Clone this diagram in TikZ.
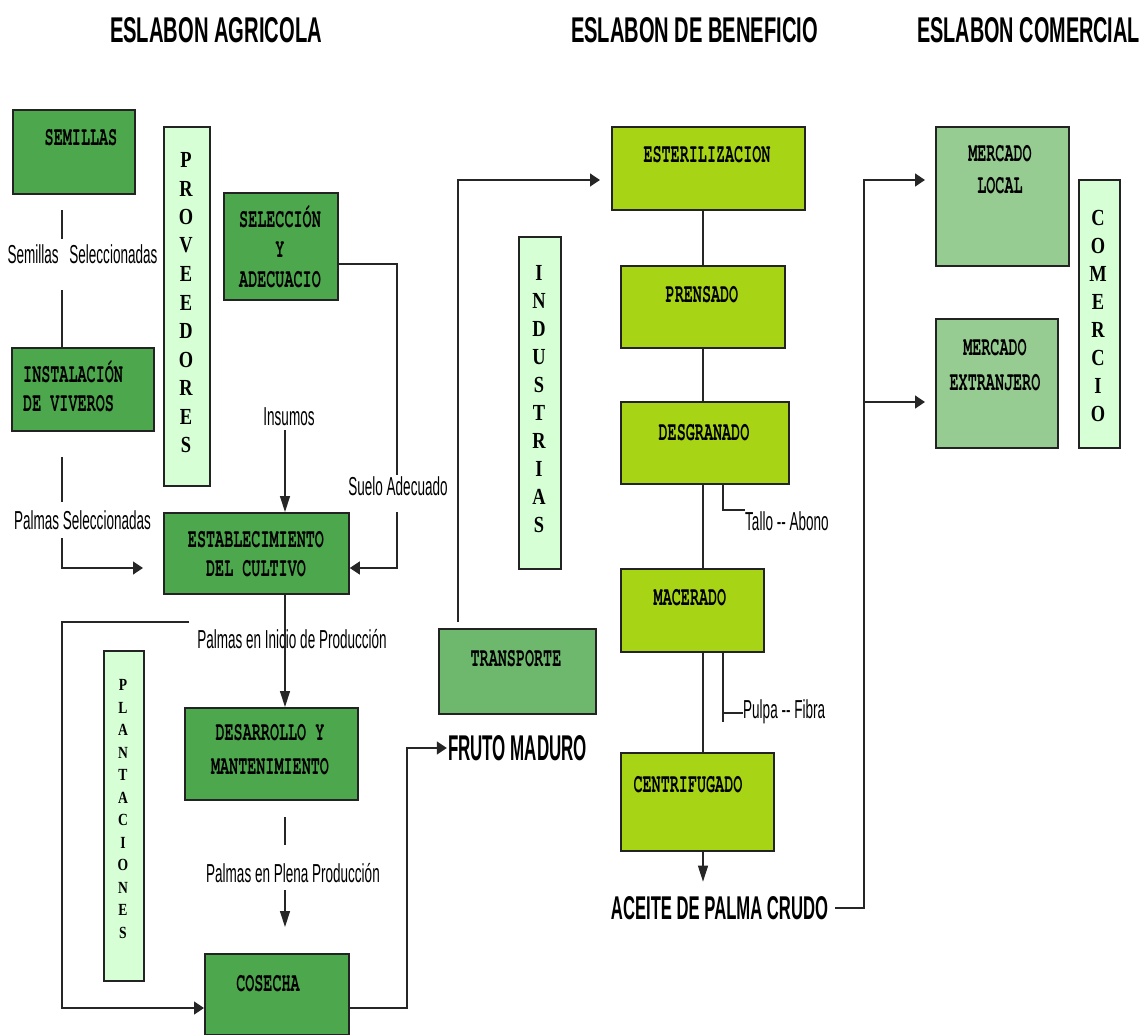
\documentclass[tikz,border=0pt]{standalone}
\usepackage{fontspec}
\usepackage{graphicx}
\usetikzlibrary{arrows.meta}
\setmainfont{Liberation Sans}
\newfontfamily\labelfont[FakeStretch=0.52]{Liberation Sans}
\newfontfamily\headfont{Liberation Sans Bold}
\newfontfamily\boxfont[FakeStretch=0.56]{texgyrecursor-bold.otf}
\newfontfamily\letterfont[FakeStretch=0.8]{Liberation Serif Bold}
\newcommand\fitw[3]{\resizebox{#1pt}{#2pt}{\headfont #3}}

\definecolor{dkgreen}{RGB}{77,168,77}
\definecolor{ltgreen}{RGB}{214,255,214}
\definecolor{ygreen}{RGB}{168,212,22}
\definecolor{trgreen}{RGB}{110,184,110}
\definecolor{mkgreen}{RGB}{150,204,145}
\definecolor{boxline}{RGB}{35,35,35}

\begin{document}
\begin{tikzpicture}[x=1pt,y=-1pt,
  box/.style={draw=boxline, line width=1.8pt, anchor=north west, inner sep=0pt},
  btxt/.style={font=\boxfont\fontsize{27}{27}\selectfont, anchor=base, inner sep=0pt},
  lbl/.style={font=\labelfont\fontsize{26}{26}\selectfont, anchor=base, inner sep=0pt},
  vlet/.style={font=\letterfont\fontsize{23}{23}\selectfont, inner sep=0pt},
  slet/.style={font=\letterfont\fontsize{17}{17}\selectfont, inner sep=0pt},
  conn/.style={line width=1.3pt, draw=black!85},
  harr/.style={-{Triangle[length=10pt,width=13pt]}},
  varr/.style={-{Triangle[length=16pt,width=10pt]}}]
\useasboundingbox (0,0) rectangle (1148,1035);

% stage headings
\node[inner sep=0pt] (h1) at (216,30) {\fitw{212}{25}{ESLABON AGRICOLA}};
\node[inner sep=0pt] (h2) at (694.5,30) {\fitw{247}{25}{ESLABON DE BENEFICIO}};
\node[inner sep=0pt] (h3) at (1028.5,30) {\fitw{223}{25}{ESLABON COMERCIAL}};

% agricultural stage
\node[box, fill=dkgreen, minimum width=122, minimum height=84] (semillas) at (12,109) {};
\node[btxt] (semillasT) at (81,146) {SEMILLAS};

\node[box, fill=ltgreen, minimum width=46, minimum height=359] (prov) at (163,126) {};
\foreach \ch [count=\i from 0] in {P,R,O,V,E,E,D,O,R,E,S}
  \node[vlet] (prov-\i) at (186,160+28.5*\i) {\ch};

\node[box, fill=dkgreen, minimum width=114, minimum height=107] (selec) at (223,192) {};
\node[btxt] (selecT1) at (280,227) {SELECCIÓN};
\node[btxt] (selecT2) at (280,257) {Y};
\node[btxt] (selecT3) at (280,287) {ADECUACIO};

\node[box, fill=dkgreen, minimum width=142, minimum height=83] (instal) at (11,347) {};
\node[btxt, anchor=base west] (instalT1) at (23,382) {INSTALACIÓN};
\node[btxt, anchor=base west] (instalT2) at (23,411) {DE VIVEROS};

\node[box, fill=dkgreen, minimum width=185, minimum height=81] (estab) at (163,512) {};
\node[btxt] (estabT1) at (256,547) {ESTABLECIMIENTO};
\node[btxt] (estabT2) at (256,576) {DEL CULTIVO};

\node[box, fill=ltgreen, minimum width=40, minimum height=330] (plant) at (103,650) {};
\foreach \ch [count=\i from 0] in {P,L,A,N,T,A,C,I,O,N,E,S}
  \node[slet] (plant-\i) at (123,685+22.5*\i) {\ch};

\node[box, fill=dkgreen, minimum width=173, minimum height=92] (desarr) at (184,707) {};
\node[btxt] (desarrT1) at (270,740) {DESARROLLO Y};
\node[btxt] (desarrT2) at (270,774) {MANTENIMIENTO};

\node[box, fill=dkgreen, minimum width=144, minimum height=81] (cosecha) at (204,953) {};
\node[btxt] (cosechaT) at (268,991) {COSECHA};

% flow labels
\node[lbl] (semsel) at (82.5,263) {Semillas\hspace{7pt} Seleccionadas};
\node[lbl] (palsel) at (82.5,529) {Palmas Seleccionadas};
\node[lbl] (insumos) at (289,425) {Insumos};
\node[lbl] (suelo) at (398,495) {Suelo Adecuado};
\node[lbl] (inicio) at (292,648) {Palmas en Inicio de Producción};
\node[lbl] (plena) at (293,882) {Palmas en Plena Producción};

\coordinate (colA) at (62,0);
\coordinate (colB) at (285,0);
\coordinate (colS) at (397,0);
\coordinate (colF) at (407,0);
\coordinate (colR) at (458,0);
\coordinate (colP) at (703,0);
\coordinate (colT) at (723,0);
\coordinate (colM) at (864,0);
\coordinate (sueloY) at (0,264);
\coordinate (estabY) at (0,568);
\coordinate (loopY) at (0,1008);
\coordinate (esterY) at (0,180);
\coordinate (mlocY) at (0,180);
\coordinate (mextY) at (0,402);

% seeds to nursery
\draw[conn] ([yshift=-15]semillas.south -| colA) -- ++(0,29);
\draw[conn] ([yshift=-27]semsel.base -| colA) -- (instal.north -| colA);
% nursery to establishment
\draw[conn] ([yshift=-25]instal.south -| colA) -- ++(0,45);
\draw[conn,harr] ([yshift=-9]palsel.base -| colA) -- (colA |- estabY) -- ([xshift=-20]estab.west |- estabY);
% soil preparation
\draw[conn] (selec.east |- sueloY) -- (colS |- sueloY) -- ([yshift=20]suelo.base -| colS);
\draw[conn,harr] ([yshift=-17]suelo.base -| colS) -- (colS |- estabY) -- (estab.east |- estabY);
% inputs
\draw[conn,varr] ([yshift=-5]insumos.base -| colB) -- (estab.north -| colB);
% establishment to development
\draw[conn,varr] (estab.south -| colB) -- (desarr.north -| colB);
% development to harvest
\draw[conn] ([yshift=-16]desarr.south -| colB) -- ++(0,28);
\draw[conn,varr] ([yshift=-8]plena.base -| colB) -- ([yshift=26]cosecha.north -| colB);
% plantation loop
\draw[conn,harr] (189,622) -- (colA |- 0,622) -- (colA |- loopY) -- (cosecha.west |- loopY);

% ripe fruit
\node[inner sep=0pt] (fruto) at (517.5,748) {\fitw{139}{25}{FRUTO MADURO}};
\draw[conn,harr] (cosecha.east |- loopY) -- (colF |- loopY) -- (colF |- fruto) -- ([xshift=-1]fruto.west);

% processing stage
\node[box, fill=trgreen, minimum width=157, minimum height=85] (transp) at (438,628) {};
\node[btxt] (transpT) at (516,666) {TRANSPORTE};

\node[box, fill=ltgreen, minimum width=42, minimum height=332] (indus) at (518,236) {};
\foreach \ch [count=\i from 0] in {I,N,D,U,S,T,R,I,A,S}
  \node[vlet] (indus-\i) at (539,273+28*\i) {\ch};

\node[box, fill=ygreen, minimum width=193, minimum height=83] (ester) at (611,126) {};
\node[btxt] (esterT) at (707,163) {ESTERILIZACION};
\node[box, fill=ygreen, minimum width=164, minimum height=82] (prens) at (620,265) {};
\node[btxt] (prensT) at (702,302) {PRENSADO};
\node[box, fill=ygreen, minimum width=168, minimum height=82] (desgr) at (620,401) {};
\node[btxt] (desgrT) at (704,440) {DESGRANADO};
\node[box, fill=ygreen, minimum width=143, minimum height=83] (macer) at (620,568) {};
\node[btxt] (macerT) at (690,605) {MACERADO};
\node[box, fill=ygreen, minimum width=153, minimum height=98] (centr) at (620,752) {};
\node[btxt] (centrT) at (688,792) {CENTRIFUGADO};

\draw[conn,harr] ([yshift=6]transp.north -| colR) -- (colR |- esterY) -- ([xshift=-11]ester.west |- esterY);
\draw[conn] (ester.south -| colP) -- (prens.north -| colP);
\draw[conn] (prens.south -| colP) -- (desgr.north -| colP);
\draw[conn] (desgr.south -| colP) -- (macer.north -| colP);
\draw[conn] (macer.south -| colP) -- (centr.north -| colP);

% by-products
\node[lbl, anchor=base west] (tallo) at (745,530) {Tallo -{}- Abono};
\draw[conn] (desgr.south -| colT) -- (colT |- 0,510) -- (745,510);
\node[lbl, anchor=base west] (pulpa) at (743,718) {Pulpa -{}- Fibra};
\draw[conn] (macer.south -| colT) -- (colT |- 0,722);
\draw[conn] (colT |- 0,713) -- (pulpa.west |- 0,713);

% crude oil
\node[inner sep=0pt] (aceite) at (719.5,908) {\fitw{217}{23}{ACEITE DE PALMA CRUDO}};
\draw[conn,varr] (centr.south -| colP) -- ([yshift=14.5]aceite.north -| colP);

% commercial stage
\node[box, fill=mkgreen, minimum width=133, minimum height=139] (merloc) at (935,126) {};
\node[btxt] (merlocT1) at (1000,162) {MERCADO};
\node[btxt] (merlocT2) at (1000,194) {LOCAL};
\node[box, fill=mkgreen, minimum width=122, minimum height=129] (merext) at (935,318) {};
\node[btxt] (merextT1) at (995,355) {MERCADO};
\node[btxt] (merextT2) at (995,390) {EXTRANJERO};

\node[box, fill=ltgreen, minimum width=41, minimum height=268] (comer) at (1078,179) {};
\foreach \ch [count=\i from 0] in {C,O,M,E,R,C,I,O}
  \node[vlet] (comer-\i) at (1098,218+28*\i) {\ch};

\draw[conn,harr] ([xshift=7]aceite.east) -- (colM |- aceite) -- (colM |- mlocY) -- ([xshift=-10]merloc.west |- mlocY);
\draw[conn,harr] (colM |- mextY) -- ([xshift=-10]merext.west |- mextY);
\end{tikzpicture}
\end{document}
